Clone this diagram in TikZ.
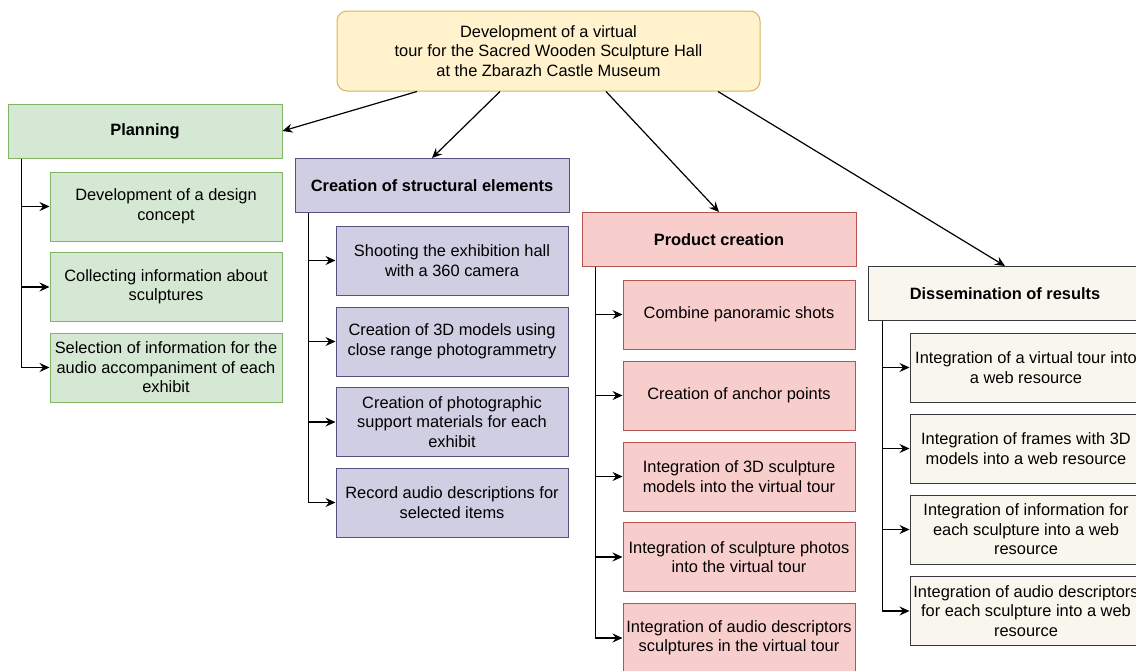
\documentclass[tikz,border=0pt]{standalone}
\usepackage{fontspec}
\setmainfont{Liberation Sans}
\usetikzlibrary{arrows.meta}
\definecolor{topfill}{HTML}{FFF2CC}\definecolor{topdraw}{HTML}{D6B656}
\definecolor{grfill}{HTML}{D5E8D4}\definecolor{grdraw}{HTML}{82B366}
\definecolor{pufill}{HTML}{D0CEE2}\definecolor{pudraw}{HTML}{56517E}
\definecolor{rdfill}{HTML}{F8CECC}\definecolor{rddraw}{HTML}{B85450}
\definecolor{befill}{HTML}{F9F7ED}\definecolor{bedraw}{HTML}{36393D}
\tikzset{
  box/.style={rectangle, draw, line width=1pt, align=center, inner sep=1pt,
    font=\fontsize{16.4}{19.5}\selectfont},
  head/.style={box, minimum width=274pt, minimum height=54pt, font=\fontsize{16.4}{19.5}\selectfont\bfseries},
  sub/.style={box, minimum width=232pt, minimum height=69pt},
  green/.style={fill=grfill, draw=grdraw},
  purple/.style={fill=pufill, draw=pudraw},
  red/.style={fill=rdfill, draw=rddraw},
  beige/.style={fill=befill, draw=bedraw},
  arr/.style={-{Stealth[length=10pt,width=9pt,inset=3.5pt]}, line width=1.2pt}
}
\begin{document}
\begin{tikzpicture}[x=1pt, y=-1pt]
			\useasboundingbox (0,0) rectangle (1136,670);
			\node[box, rounded corners=10pt, fill=topfill, draw=topdraw, minimum width=423pt, minimum height=80pt] (top) at (548.5,51)
				{Development of a virtual\\tour for the Sacred Wooden Sculpture Hall\\at the Zbarazh Castle Museum};
			% headers
			\node[head, green] (plan) at (145,131) {Planning};
			\node[head, purple] (struct) at (432,185.5) {Creation of structural elements};
			\node[head, red] (prod) at (719,239.5) {Product creation};
			\node[head, beige] (diss) at (1005,293.5) {Dissemination of results};
			\draw[arr] ([xshift=-131.5pt]top.south) -- (plan.east);
			\draw[arr] ([xshift=-48.5pt]top.south) -- (struct.north);
			\draw[arr] ([xshift=57.5pt]top.south) -- (prod.north);
			\draw[arr] ([xshift=169.5pt]top.south) -- (diss.north);
			% planning
			\foreach \n/\y/\t in {1/206.5/{Development of a design\\concept},
				2/287/{Collecting information about\\sculptures},
				3/367.5/{Selection of information for the\\audio accompaniment of each\\exhibit}}{
				\node[sub, green] (plan\n) at (166,\y) {\t};
				\draw[arr] ([xshift=14pt]plan.south west) |- (plan\n.west);
			}
			% structural elements
			\foreach \n/\y/\t in {1/260.5/{Shooting the exhibition hall\\with a 360 camera},
				2/341.5/{Creation of 3D models using\\close range photogrammetry},
				3/422/{Creation of photographic\\support materials for each\\exhibit},
				4/502.5/{Record audio descriptions for\\selected items}}{
				\node[sub, purple] (struct\n) at (452,\y) {\t};
				\draw[arr] ([xshift=14pt]struct.south west) |- (struct\n.west);
			}
			% product
			\foreach \n/\y/\t in {1/314.5/{Combine panoramic shots},
				2/395.5/{Creation of anchor points},
				3/476.5/{Integration of 3D sculpture\\models into the virtual tour},
				4/557/{Integration of sculpture photos\\into the virtual tour},
				5/638/{Integration of audio descriptors\\sculptures in the virtual tour}}{
				\node[sub, red] (prod\n) at (739,\y) {\t};
				\draw[arr] ([xshift=14pt]prod.south west) |- (prod\n.west);
			}
			% dissemination
			\foreach \n/\y/\t in {1/367.5/{Integration of a virtual tour into\\a web resource},
				2/448.5/{Integration of frames with 3D\\models into a web resource},
				3/529.5/{Integration of information for\\each sculpture into a web\\resource},
				4/611/{Integration of audio descriptors\\for each sculpture into a web\\resource}}{
				\node[sub, beige] (diss\n) at (1026,\y) {\t};
				\draw[arr] ([xshift=15pt]diss.south west) |- (diss\n.west);
			}
		\end{tikzpicture}
\end{document}
